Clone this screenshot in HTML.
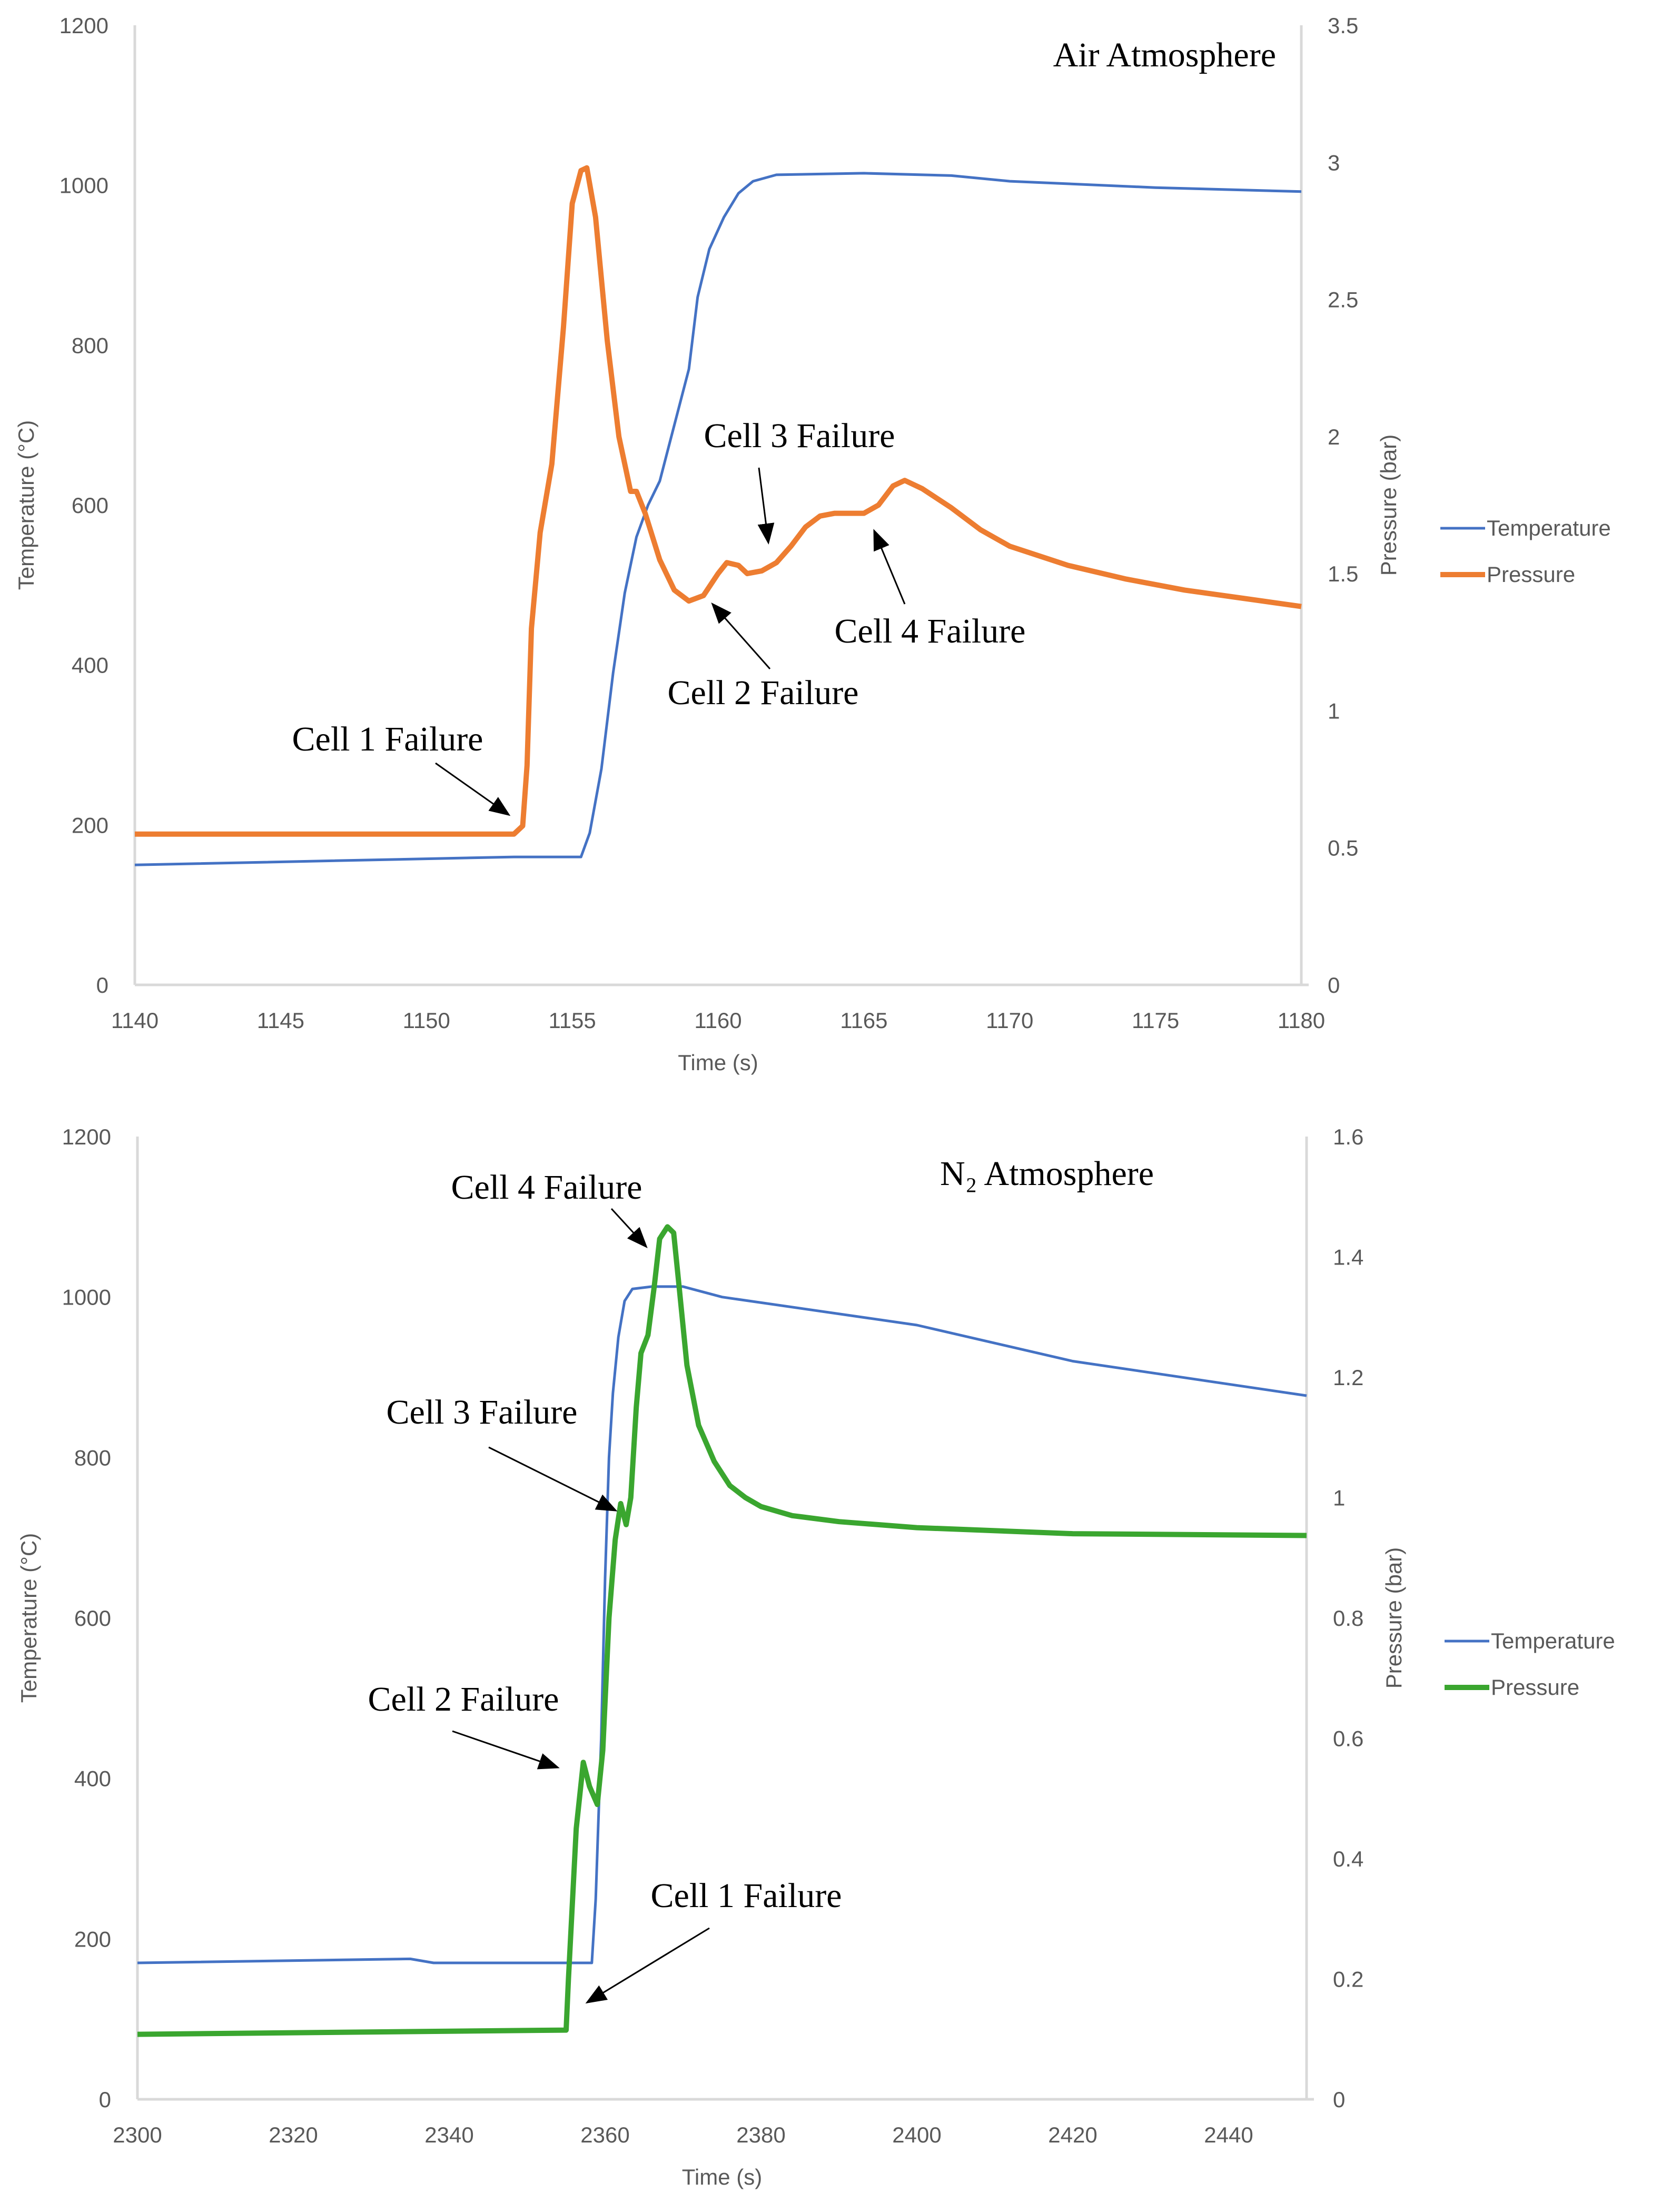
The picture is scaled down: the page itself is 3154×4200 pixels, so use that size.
<!DOCTYPE html>
<html><head><meta charset="utf-8"><style>
html,body{margin:0;padding:0;background:#fff;}
svg{display:block;}
.tk{font-family:"Liberation Sans",sans-serif;font-size:42px;fill:#595959;}
.ann{font-family:"Liberation Serif",serif;font-size:66px;fill:#000;}
</style></head><body>
<svg id="chart" width="3154" height="4200" viewBox="0 0 3154 4200" xmlns="http://www.w3.org/2000/svg">
<defs><marker id="ah2" viewBox="0 0 10 10" refX="9" refY="5" markerWidth="40" markerHeight="40" markerUnits="userSpaceOnUse" orient="auto"><path d="M0,1 L10,5 L0,9 z" fill="#000"/></marker></defs>
</svg>
<script>
// ---- Top chart (Air) data ----
const airTimeT = [1140,1153,1155.3,1155.6,1156,1156.4,1156.8,1157.2,1157.6,1158,1158.5,1159,1159.3,1159.7,1160.2,1160.7,1161.2,1162,1165,1168,1170,1175,1180];
const airTemp  = [150,160,160,190,270,390,490,560,600,630,700,770,860,920,960,990,1005,1013,1015,1012,1005,997,992];
const airTimeP = [1140,1153,1153.3,1153.45,1153.6,1153.9,1154.3,1154.7,1155,1155.3,1155.5,1155.8,1156.2,1156.6,1157,1157.2,1157.5,1158,1158.5,1159,1159.5,1160,1160.3,1160.7,1161,1161.5,1162,1162.5,1163,1163.5,1164,1165,1165.5,1166,1166.4,1167,1168,1169,1170,1172,1174,1176,1178,1180];
const airPres  = [0.55,0.55,0.58,0.8,1.3,1.65,1.9,2.4,2.85,2.97,2.98,2.8,2.35,2.0,1.8,1.8,1.72,1.55,1.44,1.40,1.42,1.5,1.54,1.53,1.5,1.51,1.54,1.6,1.67,1.71,1.72,1.72,1.75,1.82,1.84,1.81,1.74,1.66,1.6,1.53,1.48,1.44,1.41,1.38];
const airXTicks = [1140,1145,1150,1155,1160,1165,1170,1175,1180];
const airYTicks = [0,200,400,600,800,1000,1200];
const airPTicks = ["0","0.5","1","1.5","2","2.5","3","3.5"];
// ---- Bottom chart (N2) data ----
const n2TimeT = [2300,2335,2338,2358.3,2358.8,2359.5,2360,2360.5,2361,2361.7,2362.5,2363.5,2366,2370,2375,2400,2420,2450];
const n2Temp  = [170,175,170,170,250,450,650,800,880,950,995,1010,1013,1013,1000,965,920,877];
const n2TimeP = [2300,2355,2355.3,2356.3,2357.2,2358,2359,2359.7,2360.5,2361.3,2362,2362.7,2363.3,2364,2364.6,2365.5,2366.3,2367,2368,2368.8,2369.5,2370.5,2372,2374,2376,2378,2380,2384,2390,2400,2420,2450];
const n2Pres  = [0.108,0.115,0.2,0.45,0.56,0.52,0.49,0.58,0.8,0.93,0.99,0.955,1.0,1.15,1.24,1.27,1.35,1.43,1.45,1.44,1.35,1.22,1.12,1.06,1.02,1.0,0.985,0.97,0.96,0.95,0.94,0.937];
const n2XTicks = [2300,2320,2340,2360,2380,2400,2420,2440];
const n2YTicks = [0,200,400,600,800,1000,1200];
const n2PTicks = ["0","0.2","0.4","0.6","0.8","1","1.2","1.4","1.6"];

const svg = document.getElementById('chart');
const NS = 'http://www.w3.org/2000/svg';
function mk(tag, attrs, parent){const e=document.createElementNS(NS,tag);for(const k in attrs)e.setAttribute(k,attrs[k]);(parent||svg).appendChild(e);return e;}

function drawChart(o){
  const g = mk('g',{});
  
  
  const sx = t => o.x0 + (t - o.tmin)/(o.tmax - o.tmin)*(o.x1 - o.x0);
  const sy = v => o.yb - v/o.ymax*(o.yb - o.yt);
  const sp = v => o.yb - v/o.pmax*(o.yb - o.yt);
  let a = mk('line',{x1:o.x0,y1:o.yt,x2:o.x0,y2:o.yb,stroke:'#d9d9d9','stroke-width':5},g);
   
  a = mk('line',{x1:o.x1,y1:o.yt,x2:o.x1,y2:o.yb,stroke:'#d9d9d9','stroke-width':5},g);
   
  a = mk('line',{x1:o.x0,y1:o.yb,x2:o.x1+14,y2:o.yb,stroke:'#d9d9d9','stroke-width':5},g);
   
  o.xt.forEach(t=>{const e=mk('text',{x:sx(t),y:o.yb+82,'text-anchor':'middle',class:'tk'},g);e.textContent=t;
     });
  o.yticks.forEach(v=>{const e=mk('text',{x:o.x0-50,y:sy(v)+15,'text-anchor':'end',class:'tk'},g);e.textContent=v;
     });
  o.pt.forEach(s=>{const e=mk('text',{x:o.x1+50,y:sp(parseFloat(s))+15,'text-anchor':'start',class:'tk'},g);e.textContent=s;
     });
  let e = mk('text',{x:(o.x0+o.x1)/2,y:o.yb+162,'text-anchor':'middle',class:'tk'},g); e.textContent='Time (s)';
   
  const cy=(o.yt+o.yb)/2;
  e = mk('text',{x:0,y:0,'text-anchor':'middle',class:'tk',transform:`translate(${o.x0-192},${cy}) rotate(-90)`},g); e.textContent='Temperature (°C)';
   
  e = mk('text',{x:0,y:0,'text-anchor':'middle',class:'tk',transform:`translate(${o.x1+180},${cy}) rotate(-90)`},g); e.textContent='Pressure (bar)';
   
  let d = o.tT.map((t,i)=>(i?'L':'M')+sx(t).toFixed(1)+','+sy(o.T[i]).toFixed(1)).join(' ');
  e = mk('path',{d:d,fill:'none',stroke:'#4472c4','stroke-width':5,'stroke-linejoin':'round'},g);
   
  d = o.tP.map((t,i)=>(i?'L':'M')+sx(t).toFixed(1)+','+sp(o.P[i]).toFixed(1)).join(' ');
  e = mk('path',{d:d,fill:'none',stroke:o.pc,'stroke-width':10,'stroke-linejoin':'round'},g);
   
  e = mk('line',{x1:o.lx,y1:o.ly,x2:o.lx+85,y2:o.ly,stroke:'#4472c4','stroke-width':5},g);
   
  e = mk('text',{x:o.lx+88,y:o.ly+14,class:'tk'},g); e.textContent='Temperature';
   
  e = mk('line',{x1:o.lx,y1:o.ly+88,x2:o.lx+85,y2:o.ly+88,stroke:o.pc,'stroke-width':10},g);
   
  e = mk('text',{x:o.lx+88,y:o.ly+102,class:'tk'},g); e.textContent='Pressure';
   
  o.ann.forEach(n=>{
    const t = mk('text',{x:n[1],y:n[2]+22,'text-anchor':n[7]||'middle',class:'ann'},g); t.textContent=n[0];
     
    if(n[3]!==undefined && n[3]!==null){
      const l = mk('line',{x1:n[3],y1:n[4],x2:n[5],y2:n[6],stroke:'#000','stroke-width':3,'marker-end':'url(#ah2)'},g);
       
    }
  });
}

drawChart({name:'air-atmosphere-chart',x0:256,x1:2471,yt:48,yb:1870,tmin:1140,tmax:1180,ymax:1200,pmax:3.5,
  xt:airXTicks,yticks:airYTicks,pt:airPTicks,tT:airTimeT,T:airTemp,tP:airTimeP,P:airPres,pc:'#ed7d31',lx:2735,ly:1003,
  ann:[['Cell 1 Failure',736,1403,827,1449,966,1547],['Cell 3 Failure',1518,827,1441,888,1459,1030],
       ['Cell 2 Failure',1449,1315,1462,1270,1353,1147],['Cell 4 Failure',1766,1198,1718,1147,1660,1008],
       ['Air Atmosphere',2423,104,null,null,null,null,'end']]});
drawChart({name:'n2-atmosphere-chart',x0:261,x1:2481,yt:2158,yb:3986,tmin:2300,tmax:2450,ymax:1200,pmax:1.6,
  xt:n2XTicks,yticks:n2YTicks,pt:n2PTicks,tT:n2TimeT,T:n2Temp,tP:n2TimeP,P:n2Pres,pc:'#3aa62f',lx:2743,ly:3116,
  ann:[['Cell 4 Failure',1038,2254,1161,2295,1227,2367],['Cell 3 Failure',915,2681,928,2748,1169,2868],
       ['Cell 2 Failure',880,3226,859,3287,1059,3356],['Cell 1 Failure',1417,3599,1347,3661,1115,3802],
       ['N₂ Atmosphere',1988,2228,null,null,null,null]]});
</script>
</body></html>
